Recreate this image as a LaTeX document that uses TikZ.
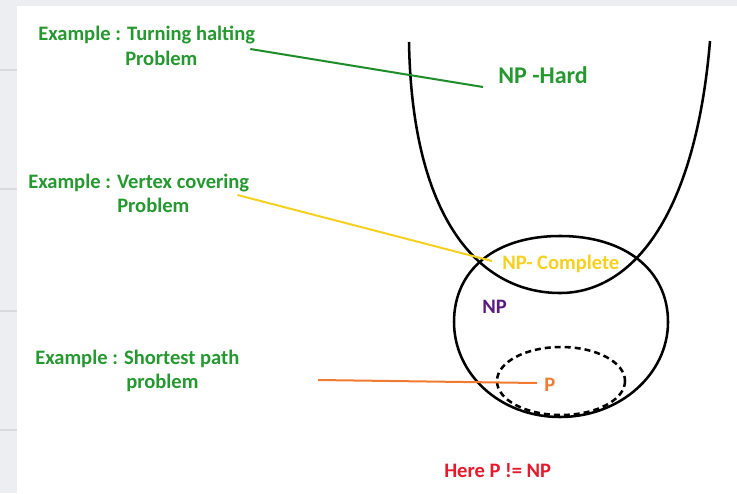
\documentclass[tikz,border=0pt]{standalone}
\usepackage{fontspec}
\setmainfont{Carlito}
\definecolor{pagegrey}{RGB}{236,238,241}
\definecolor{ruleGrey}{RGB}{214,217,222}
\definecolor{exgreen}{RGB}{38,152,48}
\definecolor{linegreen}{RGB}{30,140,40}
\definecolor{npyellow}{RGB}{246,208,30}
\definecolor{nppurple}{RGB}{88,28,128}
\definecolor{porange}{RGB}{240,122,48}
\definecolor{notered}{RGB}{230,26,44}

\begin{document}
\begin{tikzpicture}[x=0.75pt,y=-0.75pt,
    lbl/.style={inner sep=0pt,anchor=base west,font=\bfseries\fontsize{15.4pt}{18pt}\selectfont},
    setline/.style={line width=1.9pt,black}]
      \useasboundingbox (0,0) rectangle (737,493);
      \fill[pagegrey] (0,0) rectangle (737,493);
      \fill[white] (17,6) rectangle (737,493);
      \foreach \y in {70,189,311,430}
        \draw[ruleGrey,line width=0.8pt] (0,\y) -- (17,\y);
      % the sets
      \draw[setline] (409,42) .. controls (412,220) and (480,293) .. (560,293)
        .. controls (630,293) and (695,220) .. (710,41);
      \draw[setline] (454,322) .. controls (454,270) and (495,236) .. (560,236)
        .. controls (625,236) and (668,270) .. (668,322)
        .. controls (668,374) and (620,417) .. (560,417)
        .. controls (500,417) and (454,374) .. (454,322) -- cycle;
      \draw[setline,dash pattern=on 4.5pt off 3pt] (561,381) ellipse [x radius=64,y radius=34];
      % labels
      \draw
        (38,40) node[lbl,exgreen] (exHalt){Example : Turning halting}
        (125,65) node[lbl,exgreen] (exHaltB){Problem}
        (28,188) node[lbl,exgreen] (exVert){Example : Vertex covering}
        (117,212) node[lbl,exgreen] (exVertB){Problem}
        (35,364) node[lbl,exgreen] (exPath){Example : Shortest path}
        (126,388) node[lbl,exgreen] (exPathB){problem}
        (498,83) node[lbl,exgreen,font=\bfseries\fontsize{18pt}{21pt}\selectfont] (npHard){NP -Hard}
        (502,269) node[lbl,npyellow] (npComp){NP- Complete}
        (482,313) node[lbl,nppurple] (npSet){NP}
        (544,391) node[lbl,porange] (pSet){P}
        (444,477) node[lbl,notered] (note){Here P != NP};
      \coordinate (pStart) at (318,380);
      \begin{scope}[line width=1.5pt]
        \draw[linegreen] ([shift={(-5,9)}]exHalt.base east) -- ([shift={(-15,4)}]npHard.base west);
        \draw[npyellow] ([shift={(-12,7)}]exVert.base east) -- ([shift={(-10,-8)}]npComp.base west);
        \draw[porange] (pStart) -- ([shift={(-7,-8)}]pSet.base west);
      \end{scope}
    \end{tikzpicture}
\end{document}
